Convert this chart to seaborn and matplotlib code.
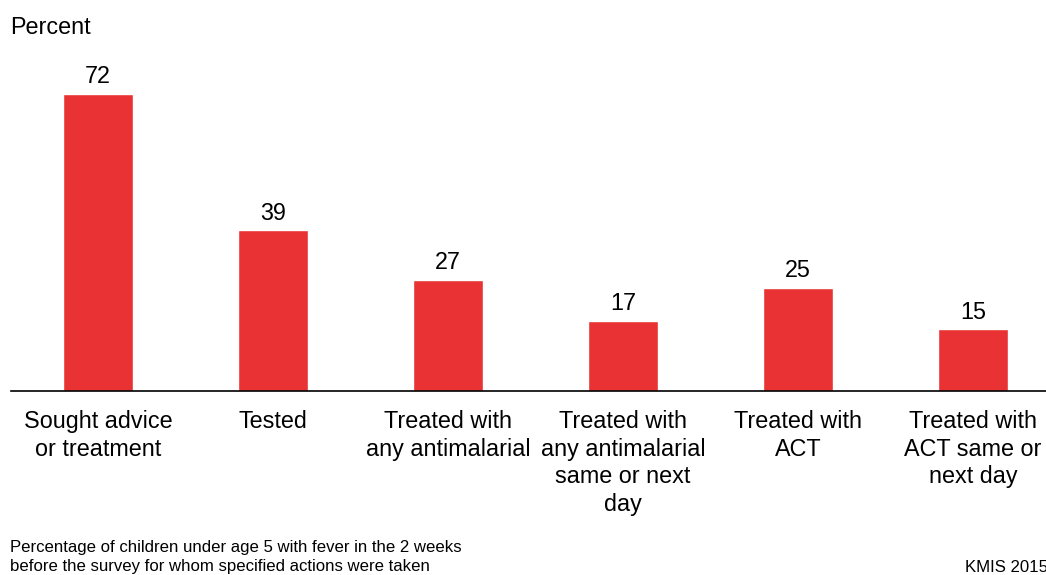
import matplotlib
matplotlib.use("Agg")
import matplotlib.pyplot as plt
import seaborn as sns
import pandas as pd

categories = ["Sought advice\nor treatment", "Tested", "Treated with\nany antimalarial",
              "Treated with\nany antimalarial\nsame or next\nday", "Treated with\nACT",
              "Treated with\nACT same or\nnext day"]
values = [72, 39, 27, 17, 25, 15]

sns.set_style("white")
plt.rcParams['font.family'] = ['Liberation Sans', 'DejaVu Sans']
plt.rcParams['text.color'] = 'black'
plt.rcParams['xtick.color'] = 'black'

df = pd.DataFrame({"cat": categories, "val": values})

fig = plt.figure(figsize=(10.46, 5.75), dpi=100)
W, H = 1046, 575
ymax = 80
ax = fig.add_axes([10.5 / W, (575 - 391) / H, 1050 / W, ymax * 4.125 / H])
sns.barplot(data=df, x="cat", y="val", color="#E83233", width=0.4, saturation=1, ax=ax)
ax.set_xlim(-0.5, 5.5)
ax.set_ylim(0, ymax)
for i, v in enumerate(values):
    ax.annotate(str(v), (i, v), xytext=(0, 4), textcoords="offset points",
                ha="center", va="bottom", fontsize=16.8, color="black")
ax.set_yticks([])
ax.set_xlabel("")
ax.set_ylabel("")
ax.set_xticks(range(len(categories)))
ax.set_xticklabels(categories, linespacing=1.25, fontsize=16.8, color="black")
ax.tick_params(axis="x", length=0, pad=14)
for s in ["top", "right", "left"]:
    ax.spines[s].set_visible(False)
ax.spines["bottom"].set_color("black")
ax.spines["bottom"].set_linewidth(1.2)

fig.text(10 / W, 1 - 27 / H, "Percent", fontsize=16.8, va="center", ha="left", color="black")
fig.text(10 / W, 1 - 557 / H, "Percentage of children under age 5 with fever in the 2 weeks\nbefore the survey for whom specified actions were taken",
         fontsize=12.1, va="center", ha="left", linespacing=1.38, color="black")
fig.text(1048 / W, 1 - 567 / H, "KMIS 2015", fontsize=12.1, va="center", ha="right", color="black")

fig.savefig("out.png", dpi=100)
